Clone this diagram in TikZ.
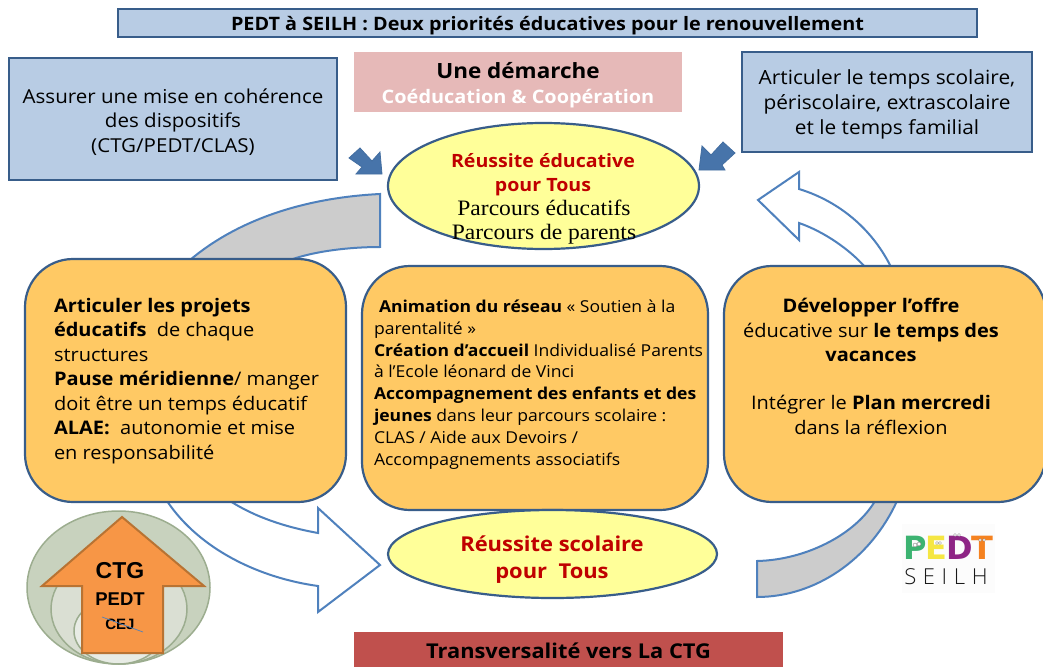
\documentclass[tikz,border=0pt]{standalone}
\usepackage{fontspec}
\setmainfont[FakeStretch=1.07]{Open Sans}
\newfontfamily\serifb[FakeStretch=1.07]{Liberation Serif}
\newfontfamily\arialf{Liberation Sans}
\newfontfamily\logoa{DejaVu Sans}
\newfontfamily\logob[LetterSpace=30]{Open Sans Light}
\definecolor{bluefill}{HTML}{B8CCE4}
\definecolor{blueline}{HTML}{385D8A}
\definecolor{arrowline}{HTML}{4F81BD}
\definecolor{pinkfill}{HTML}{E6B9B8}
\definecolor{yellowfill}{HTML}{FFFF99}
\definecolor{orangefill}{HTML}{FFC964}
\definecolor{redfill}{HTML}{C0504D}
\definecolor{redtext}{HTML}{C00000}
\definecolor{greyfill}{HTML}{CCCCCC}
\definecolor{ringa}{HTML}{C8D2BE}
\definecolor{ringb}{HTML}{DADFD3}
\definecolor{ringc}{HTML}{E8ECE5}
\definecolor{ringline}{HTML}{9CAD8F}
\definecolor{emblem}{HTML}{F79646}
\definecolor{emblemline}{HTML}{B87333}
\newcommand{\fsz}[2]{\fontsize{#1}{#2}\selectfont}
\tikzset{
  x=1pt,y=-1pt,
  bluebox/.style={draw=blueline,line width=2.2pt,fill=bluefill,inner sep=0pt,outer sep=0pt,align=center},
  orangebox/.style={draw=blueline,line width=2.2pt,fill=orangefill,rounded corners=48pt,inner sep=0pt,outer sep=0pt},
  yellowell/.style={ellipse,draw=blueline,line width=2.2pt,fill=yellowfill,inner sep=0pt,outer sep=0pt,align=center},
  flat/.style={inner sep=0pt,outer sep=0pt,align=center},
  txt/.style={inner sep=0pt,outer sep=0pt,align=left,anchor=north west},
  greyarc/.style={draw=arrowline,line width=2pt,fill=greyfill,line join=miter},
  whitearrow/.style={draw=arrowline,line width=2pt,fill=white,line join=miter},
  smallarrow/.style={draw=arrowline!85!black,line width=.8pt,fill=arrowline!90!black,line join=miter},
  ring/.style={ellipse,draw=ringline,line width=1.5pt,inner sep=0pt,outer sep=0pt},
  eyeball/.style={fill=white,draw=black!60,line width=.3pt},
}
\usetikzlibrary{shapes.geometric}
\begin{document}
\begin{tikzpicture}
\clip (0,0) rectangle (1043,666);
\fill[white] (0,0) rectangle (1043,666);

% connectors under the boxes
\draw[greyarc] (380,194) .. controls (300,198) and (235,222) .. (190,260) -- (290,260) .. controls (315,251) and (350,247) .. (380,247) -- cycle;
\draw[greyarc] (757,561) .. controls (805,560) and (855,535) .. (875,501) -- (897,501) .. controls (870,560) and (815,597) .. (757,597) -- cycle;
\draw[whitearrow] (891,267) .. controls (870,225) and (835,200) .. (799,189) -- (799,172) -- (758,200) -- (799,240) -- (799,223) .. controls (825,232) and (850,250) .. (865,267) -- cycle;
\draw[whitearrow] (167,501) .. controls (200,550) and (260,578) .. (318,586) -- (318,612) -- (380,565) -- (318,508) -- (318,533) .. controls (285,527) and (255,517) .. (230,501) -- cycle;

% title and top boxes
\node[bluebox,minimum width=859pt,minimum height=28pt] (title) at (547.5,23) {};
\node[flat,font=\bfseries\fsz{18.5}{22}] (titlet) at (547.5,26) {PEDT à SEILH : Deux priorités éducatives pour le renouvellement};
\node[flat,fill=pinkfill,minimum width=328pt,minimum height=60pt] (demarche) at (518,82) {};
\node[flat,font=\bfseries\fsz{21}{25}] (demt) at (518,70.5) {Une démarche};
\node[flat,font=\bfseries\fsz{18.6}{22},text=white] (coed) at (518,99) {Coéducation \& Coopération};
\node[bluebox,minimum width=328pt,minimum height=122pt] (left) at (173,119) {};
\node[flat,font=\fsz{19.2}{24.6}] (leftt) at (173,122) {Assurer une mise en cohérence\\des dispositifs\\(CTG/PEDT/CLAS)};
\node[bluebox,minimum width=290pt,minimum height=100pt] (right) at (887,102) {};
\node[flat,font=\fsz{19.5}{24.6}] (rightt) at (887,104.5) {Articuler le temps scolaire,\\périscolaire, extrascolaire\\et le temps familial};

% small arrows
\draw[smallarrow] (382,174) -- (380,152) -- (372,161) -- (360,148) -- (349,158) -- (362,167) -- (356,174) -- cycle;
\draw[smallarrow] (699,170) -- (702,146) -- (711,155) -- (723,142) -- (735,153) -- (722,165) -- (725,170) -- cycle;

% ellipses
\node[yellowell,minimum width=311pt,minimum height=126pt] (top) at (543.5,186) {};
\node[flat,font=\bfseries\fsz{18.3}{24},text=redtext] (topa) at (543,175) {Réussite éducative\\pour Tous};
\node[flat,font=\serifb\fsz{22}{24}] (topb) at (544,222.5) {Parcours éducatifs\\Parcours de parents};

% orange boxes
\node[orangebox,minimum width=321pt,minimum height=243pt] (bl) at (185.5,380.5) {};
\node[orangebox,minimum width=346pt,minimum height=244pt] (bc) at (535,388) {};
\node[orangebox,minimum width=322pt,minimum height=236pt] (br) at (885,384) {};

\node[yellowell,minimum width=329pt,minimum height=88pt] (low) at (552.5,554) {};
\node[flat,font=\bfseries\fsz{20.5}{27},text=redtext] (lowt) at (552,560) {Réussite scolaire\\pour\ \ Tous};

% orange texts
\node[txt,font=\fsz{18.7}{24.5}] (tl) at (54,298) {\textbf{Articuler les projets}\\\textbf{éducatifs}\ \ de chaque\\structures\\\textbf{Pause méridienne}/ manger\\doit être un temps éducatif\\\textbf{ALAE:}\ \ autonomie et mise\\en responsabilité};
\node[txt,font=\fsz{16.4}{21.8}] (tc) at (374,300) {\hspace*{5pt}\textbf{Animation du réseau} « Soutien à la\\parentalité »\\\textbf{Création d’accueil} Individualisé Parents\\à l’Ecole léonard de Vinci\\\textbf{Accompagnement des enfants et des}\\\textbf{jeunes} dans leur parcours scolaire :\\CLAS / Aide aux Devoirs /\\Accompagnements associatifs};
\node[flat,font=\fsz{18.7}{24.5}] (tr) at (871,330) {\textbf{Développer l’offre}\\éducative sur \textbf{le temps des}\\\textbf{vacances}};
\node[flat,font=\fsz{18.7}{24.5}] (tr2) at (871,415) {Intégrer le \textbf{Plan mercredi}\\dans la réflexion};

% red bar
\node[flat,fill=redfill,minimum width=429pt,minimum height=36pt] (transv) at (568.5,650) {};
\node[flat,font=\bfseries\fsz{20.4}{24}] (transt) at (568.5,651) {Transversalité vers La CTG};

% CTG emblem
\node[ring,fill=ringa,minimum width=183pt,minimum height=153pt] (ra) at (118.5,587.5) {};
\node[ring,fill=ringb,minimum width=136pt,minimum height=110pt] (rb) at (119,609) {};
\node[ring,fill=ringc,minimum width=89pt,minimum height=66pt] (rc) at (118.5,631) {};
\draw[draw=emblemline,line width=2pt,fill=emblem,line join=miter] (122,517) -- (204,586) -- (163,586) -- (163,653) -- (82,653) -- (82,586) -- (42,586) -- cycle;
\node[flat,font=\arialf\bfseries\fsz{23}{26}] (ctg) at (120,571) {CTG};
\node[flat,font=\arialf\bfseries\fsz{18.5}{22}] (pedt) at (120,599) {PEDT};
\node[flat,font=\arialf\bfseries\fsz{15}{18}] (cej) at (120,624) {CEJ};
\coordinate (sa) at (102,617);
\coordinate (sb) at (143,632);
\draw[arrowline,line width=.7pt] (sa) -- (sb);

% logo
\node[flat,fill=black!1,minimum width=93pt,minimum height=69pt] (logo) at (948.5,558.5) {};
\node[flat,font=\logoa\bfseries\fsz{32}{34}] (logot) at (948,548) {\textcolor[HTML]{3CB371}{P}\kern-1pt\textcolor[HTML]{F5E642}{E}\kern-1pt\textcolor[HTML]{8E2585}{D}\kern-2pt\textcolor[HTML]{F58220}{T}};
\node[flat,font=\logob\fsz{22}{24},text=black!90] (logos) at (946,577) {SEILH};
\fill[eyeball] (915,545) circle (2pt) (919,544) circle (2pt);
\fill[eyeball] (937,543) circle (1.5pt) (940,543) circle (1.5pt);
\fill[eyeball] (955,535) circle (1.5pt) (959,535) circle (1.5pt);
\fill[eyeball] (980,540) circle (1.5pt) (984,540) circle (1.5pt);
\end{tikzpicture}
\end{document}
